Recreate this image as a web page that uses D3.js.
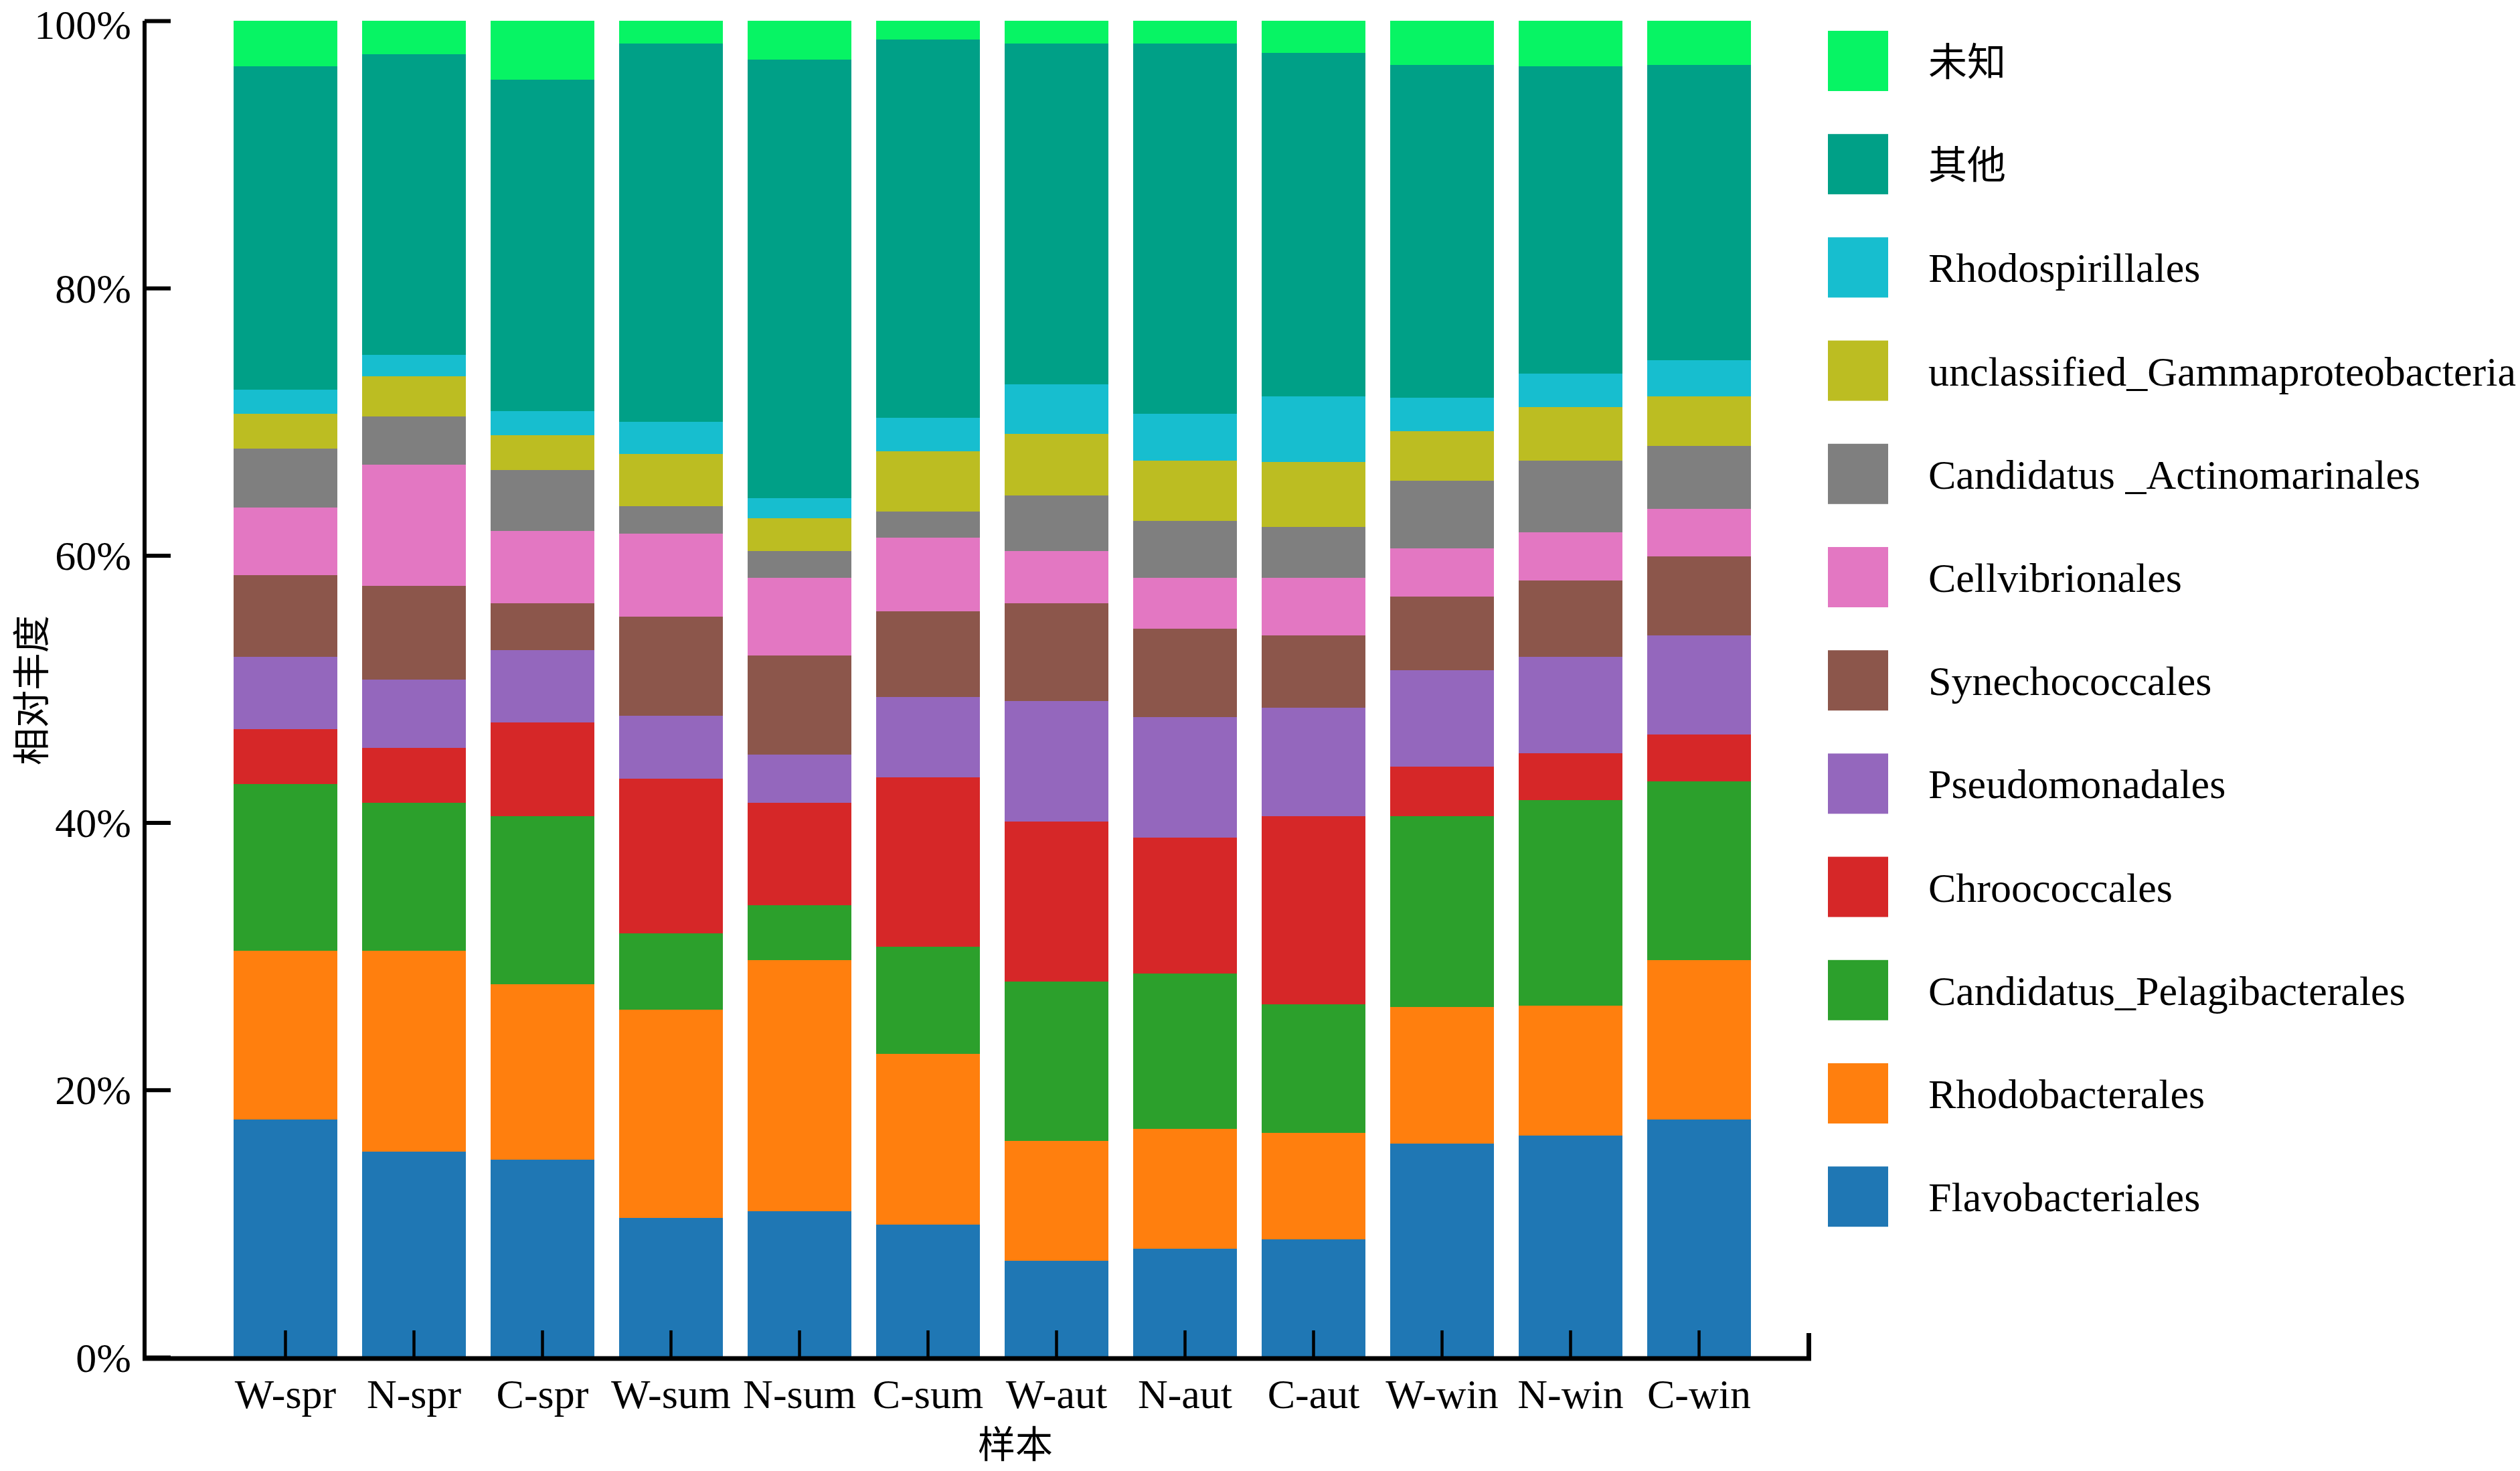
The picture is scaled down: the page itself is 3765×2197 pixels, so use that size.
<!DOCTYPE html>
<html>
<head>
<meta charset="utf-8">
<script src="https://cdn.jsdelivr.net/npm/d3@7"></script>
<style>
  html, body { margin: 0; padding: 0; background: #fff; }
  svg { display: block; }
</style>
</head>
<body>
<script>
// ---------------- data ----------------
const samples = ["W-spr","N-spr","C-spr","W-sum","N-sum","C-sum","W-aut","N-aut","C-aut","W-win","N-win","C-win"];
// taxa in stacking order (bottom -> top)
const taxa = ["Flavobacteriales","Rhodobacterales","Candidatus_Pelagibacterales","Chroococcales","Pseudomonadales","Synechococcales","Cellvibrionales","Candidatus _Actinomarinales","unclassified_Gammaproteobacteria","Rhodospirillales","其他","未知"];
// relative abundance (%) per sample, one array per taxon
const flavobacteriales   = [17.8,15.4,14.8,10.4,10.9, 9.9, 7.2, 8.1, 8.8,16.0,16.6,17.8];
const rhodobacterales    = [12.6,15.0,13.1,15.6,18.8,12.8, 9.0, 9.0, 8.0,10.2, 9.7,11.9];
const pelagibacterales   = [12.5,11.1,12.6, 5.7, 4.1, 8.0,11.9,11.6, 9.6,14.3,15.4,13.4];
const chroococcales      = [ 4.1, 4.1, 7.0,11.6, 7.7,12.7,12.0,10.2,14.1, 3.7, 3.5, 3.5];
const pseudomonadales    = [ 5.4, 5.1, 5.4, 4.7, 3.6, 6.0, 9.0, 9.0, 8.1, 7.2, 7.2, 7.4];
const synechococcales    = [ 6.1, 7.0, 3.5, 7.4, 7.4, 6.4, 7.3, 6.6, 5.4, 5.5, 5.7, 5.9];
const cellvibrionales    = [ 5.1, 9.1, 5.4, 6.2, 5.8, 5.5, 3.9, 3.8, 4.3, 3.6, 3.6, 3.6];
const actinomarinales    = [ 4.4, 3.6, 4.6, 2.1, 2.0, 2.0, 4.2, 4.3, 3.8, 5.1, 5.4, 4.7];
const unclassifiedGamma  = [ 2.6, 3.0, 2.6, 3.9, 2.5, 4.5, 4.6, 4.5, 4.9, 3.7, 4.0, 3.7];
const rhodospirillales   = [ 1.8, 1.6, 1.8, 2.4, 1.5, 2.5, 3.7, 3.5, 4.9, 2.5, 2.5, 2.7];
const others             = [24.2,22.5,24.8,28.3,32.8,28.3,25.5,27.7,25.7,24.9,23.0,22.1];
const unknown            = [ 3.4, 2.5, 4.4, 1.7, 2.9, 1.4, 1.7, 1.7, 2.4, 3.3, 3.4, 3.3];
const yTicks = [0, 20, 40, 60, 80, 100];
const yTitle = "相对丰度";
const xTitle = "样本";

const colors = ["#1f77b4","#ff7f0e","#2ca02c","#d62728","#9467bd","#8c564b","#e377c2","#7f7f7f","#bcbd22","#17becf","#00a087","#07f464"];

// ---------------- build table ----------------
const seriesValues = [flavobacteriales, rhodobacterales, pelagibacterales, chroococcales, pseudomonadales,
  synechococcales, cellvibrionales, actinomarinales, unclassifiedGamma, rhodospirillales, others, unknown];
const table = samples.map((s, i) => {
  const row = { sample: s };
  taxa.forEach((t, k) => { row[t] = seriesValues[k][i]; });
  return row;
});

// ---------------- layout ----------------
const W = 3765, H = 2197;
const serif = "'Liberation Serif','Times New Roman',serif";
const cjk = "'Noto Sans CJK SC','Noto Sans CJK JP',sans-serif";
const axisX = 216, axisY = 2029;
const plotTop = 31;

const svg = d3.select("body").append("svg")
  .attr("width", W).attr("height", H)
  .attr("viewBox", `0 0 ${W} ${H}`);

const x = d3.scaleBand()
  .domain(samples)
  .range([330.5, 2634.5])
  .paddingInner(37 / 192)
  .paddingOuter(37 / 384);

const y = d3.scaleLinear().domain([0, 100]).range([2027, plotTop]);
const color = d3.scaleOrdinal().domain(taxa).range(colors);

const stack = d3.stack().keys(taxa);
const stacked = stack(table);

// bars
svg.append("g")
  .selectAll("g")
  .data(stacked)
  .join("g")
  .attr("fill", d => color(d.key))
  .selectAll("rect")
  .data(d => d)
  .join("rect")
  .attr("x", d => x(d.data.sample))
  .attr("width", x.bandwidth())
  .attr("y", d => y(d[1]))
  .attr("height", d => y(d[0]) - y(d[1]))
  .attr("shape-rendering", "crispEdges");

// y axis
const yAxis = d3.axisLeft(y)
  .tickValues(yTicks)
  .tickFormat(d => d + "%")
  .tickSizeInner(-39)
  .tickSizeOuter(0)
  .tickPadding(20);
const gy = svg.append("g").attr("transform", `translate(${axisX},0)`).call(yAxis);
gy.select(".domain").attr("stroke", "#000").attr("stroke-width", 6)
  .attr("d", `M0,${y(100)}V${axisY}`);
gy.selectAll(".tick line").attr("stroke", "#000").attr("stroke-width", 6);
gy.selectAll(".tick text")
  .attr("font-family", serif).attr("font-size", 62).attr("fill", "#000")
  .attr("dy", d => d === 100 ? "0.42em" : "0.34em");

// x axis
const xAxis = d3.axisBottom(x)
  .tickSizeInner(-42)
  .tickSizeOuter(0)
  .tickPadding(30);
const gx = svg.append("g").attr("transform", `translate(0,${axisY})`).call(xAxis);
const xEnd = x.range()[1] + 68;
gx.select(".domain").attr("stroke", "#000").attr("stroke-width", 7).attr("fill", "none")
  .attr("d", `M${axisX - 3},0H${xEnd}V-38`);
gx.selectAll(".tick line").attr("stroke", "#000").attr("stroke-width", 4.5);
gx.selectAll(".tick text")
  .attr("font-family", serif).attr("font-size", 62).attr("fill", "#000");

// axis titles
svg.append("text")
  .attr("transform", `translate(42,1031) rotate(-90)`)
  .attr("text-anchor", "middle")
  .attr("dominant-baseline", "central")
  .attr("font-family", cjk).attr("font-size", 56).attr("fill", "#000")
  .text(yTitle);

svg.append("text")
  .attr("x", 1517).attr("y", 2152)
  .attr("text-anchor", "middle")
  .attr("dominant-baseline", "central")
  .attr("font-family", cjk).attr("font-size", 56).attr("fill", "#000")
  .text(xTitle);

// legend (top -> bottom is reverse of stack order)
const legendTaxa = taxa.slice().reverse();
const lg = svg.append("g").attr("transform", "translate(2731,46)");
const item = lg.selectAll("g").data(legendTaxa).join("g")
  .attr("transform", (d, i) => `translate(0,${i * 154.2})`);
item.append("rect")
  .attr("width", 90).attr("height", 90)
  .attr("fill", d => color(d));
item.append("text")
  .attr("x", 150)
  .attr("y", 67)
  .attr("font-family", d => /[\u4e00-\u9fff]/.test(d) ? cjk : serif)
  .attr("font-size", d => /[\u4e00-\u9fff]/.test(d) ? 58 : 62)
  .attr("fill", "#000")
  .text(d => d);
</script>
</body>
</html>
